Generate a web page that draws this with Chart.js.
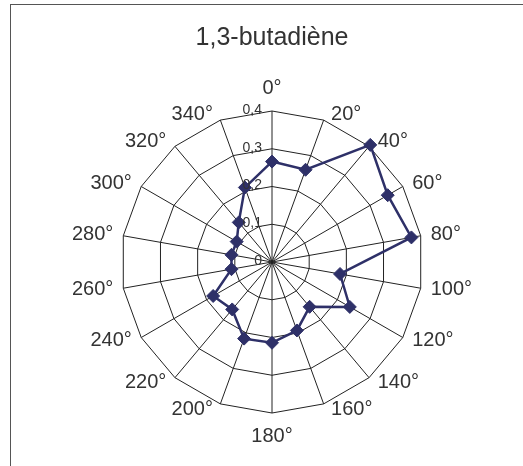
<!DOCTYPE html>
<html>
<head>
<meta charset="utf-8">
<script src="https://cdn.jsdelivr.net/npm/chart.js@4.4.1/dist/chart.umd.min.js"></script>
<style>
  body { margin: 0; background: #fff; overflow: hidden; }
  #frame { position: absolute; left: 10px; top: 4px; width: 700px; height: 700px; border: 1px solid #555; }
  #chartButadiene { position: absolute; left: 0; top: 0; }
</style>
</head>
<body>
<div id="frame"></div>
<canvas id="chartButadiene" width="523" height="466"></canvas>
<script>
// =========================
// DATA
// =========================
const angleLabels = ["0°", "20°", "40°", "60°", "80°", "100°", "120°", "140°", "160°",
    "180°", "200°", "220°", "240°", "260°", "280°", "300°", "320°", "340°"];
const butadieneValues = [0.266, 0.26, 0.405, 0.354, 0.375, 0.183, 0.238, 0.155, 0.193,
    0.214, 0.216, 0.164, 0.18, 0.109, 0.109, 0.108, 0.137, 0.21];
const tickValues = [0, 0.1, 0.2, 0.3, 0.4];
const tickLabels = ["0", "0,1", "0,2", "0,3", "0,4"];

const textColor = "#333333";
const fontFamily = "'Liberation Sans', Arial, sans-serif";

// =========================
// LABELS (drawn Excel-style)
// =========================
const excelLabels = {
    id: "excelLabels",
    afterDraw(chart) {
        const scale = chart.scales.r;
        const ctx = chart.ctx;
        ctx.save();
        ctx.fillStyle = textColor;

        // value ticks, left of the 0° axis
        ctx.font = "14px " + fontFamily;
        ctx.textAlign = "right";
        ctx.textBaseline = "middle";
        tickValues.forEach(function (v, i) {
            const y = scale.yCenter - scale.getDistanceFromCenterForValue(v);
            ctx.fillText(tickLabels[i], scale.xCenter - 10, y - 1);
        });

        // angle labels next to the outer vertices
        ctx.font = "20px " + fontFamily;
        angleLabels.forEach(function (label, i) {
            const p = scale.getPointPosition(i, scale.drawingArea);
            const a = scale.getIndexAngle(i);
            const s = Math.sin(a), c = Math.cos(a);
            let x = p.x, y = p.y;
            if (Math.abs(s) < 0.01) {
                ctx.textAlign = "center";
                y = p.y - c * 23;
            } else {
                ctx.textAlign = s > 0 ? "left" : "right";
                x = p.x + Math.sign(s) * (6 + 4 * Math.abs(s));
                y = p.y - 6 * c;
            }
            ctx.fillText(label, x, y);
        });
        ctx.restore();
    }
};

new Chart(document.getElementById("chartButadiene"), {

    type: "radar",

    data: {
        labels: angleLabels,
        datasets: [{
            label: "1,3-butadiène",
            data: butadieneValues,
            borderColor: "#2E3068",
            backgroundColor: "#2E3068",
            borderWidth: 2.5,
            fill: false,
            pointStyle: "rectRot",
            pointRadius: 6.5,
            pointBorderWidth: 1,
            pointBackgroundColor: "#2E3068",
            pointBorderColor: "#2E3068"
        }]
    },

    options: {
        responsive: false,
        animation: false,
        devicePixelRatio: 1,
        layout: {
            padding: { top: 8, left: 121, right: 100, bottom: 53 }
        },
        plugins: {
            legend: { display: false },
            tooltip: { enabled: false },
            title: {
                display: true,
                text: "1,3-butadiène",
                color: textColor,
                font: { family: fontFamily, size: 25, weight: "normal", lineHeight: 1.2 },
                padding: { top: 15, bottom: 58 }
            }
        },
        scales: {
            r: {
                min: 0,
                max: 0.4,
                ticks: { stepSize: 0.1, display: false },
                grid: { color: "#222222", lineWidth: 1 },
                angleLines: { color: "#222222", lineWidth: 1 },
                pointLabels: { display: false }
            }
        }
    },

    plugins: [excelLabels]

});
</script>
</body>
</html>
